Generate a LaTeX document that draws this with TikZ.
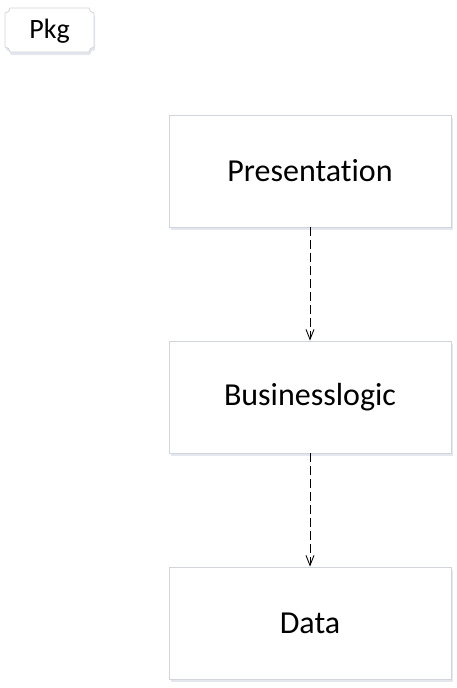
\documentclass[tikz,border=0pt]{standalone}
\usepackage{fontspec}
\setmainfont[Ligatures=NoCommon]{Carlito}
\usetikzlibrary{arrows.meta}
\definecolor{bordergray}{RGB}{208,213,220}
\definecolor{shadowgray}{RGB}{228,232,238}
\newcommand{\tagpath}{(10,8) -- (89,8) arc[start angle=180,end angle=90,radius=5] -- (94,47) arc[start angle=270,end angle=180,radius=5] -- (10,52) arc[start angle=0,end angle=-90,radius=5] -- (5,13) arc[start angle=90,end angle=0,radius=5] -- cycle}
\begin{document}
\begin{tikzpicture}[x=1pt,y=-1pt,
  layerbox/.style={draw=bordergray,line width=0.8pt,fill=white,minimum width=282pt,minimum height=112pt,font=\fontsize{32}{36}\selectfont,inner sep=0pt},
  dep/.style={draw=black,line width=0.9pt,dash pattern=on 9pt off 4pt,-{Straight Barb[open,length=10pt,width=8pt]}}]
\useasboundingbox (0,0) rectangle (457,688);
% shadows
\fill[shadowgray] (171,118) rectangle (453,230);
\fill[shadowgray] (171,344) rectangle (453,456);
\fill[shadowgray] (171,570) rectangle (453,682);
\node[layerbox] (pres) at (310,171) {Presentation};
\node[layerbox] (bus) at (310,397) {Businesslogic};
\node[layerbox] (data) at (310,623) {Data};
\draw[dep] (pres.south) -- (bus.north);
\draw[dep] (bus.south) -- (data.north);
% Pkg tag with notched corners
\begin{scope}[shift={(1,3)}]
\fill[shadowgray] \tagpath;
\end{scope}
\draw[draw=bordergray,line width=0.8pt,fill=white] \tagpath;
\node[font=\fontsize{28}{32}\selectfont,inner sep=0pt] (pkg) at (49.5,31) {Pkg};
\end{tikzpicture}
\end{document}
